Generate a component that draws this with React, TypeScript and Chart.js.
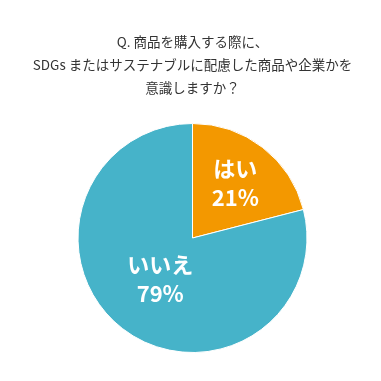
import React, { useEffect, useRef } from "react";
import { Chart, registerables } from "chart.js";

Chart.register(...registerables);

const titleLines = [
  "Q. 商品を購入する際に、",
  "SDGs またはサステナブルに配慮した商品や企業かを",
  "意識しますか？",
];
const categories = ["はい", "いいえ"];
const values = [21, 79];
const colors = ["#F39800", "#46B3C9"];
// radial placement (fraction of radius) of the label block in each slice
const labelRadius = [0.61, 0.46];

const sliceLabels = {
  id: "sliceLabels",
  afterDatasetsDraw(chart: any) {
    const { ctx } = chart;
    const meta = chart.getDatasetMeta(0);
    const data = chart.data.datasets[0].data as number[];
    const labels = chart.data.labels as string[];
    ctx.save();
    ctx.fillStyle = "#ffffff";
    ctx.textAlign = "center";
    ctx.textBaseline = "middle";
    ctx.font = "bold 22px 'Noto Sans CJK JP', 'Noto Sans', sans-serif";
    meta.data.forEach((arc: any, i: number) => {
      const { x, y, startAngle, endAngle, outerRadius } = arc.getProps(
        ["x", "y", "startAngle", "endAngle", "outerRadius"],
        true
      );
      const mid = (startAngle + endAngle) / 2;
      const r = outerRadius * labelRadius[i];
      const cx = x + Math.cos(mid) * r;
      const cy = y + Math.sin(mid) * r;
      ctx.fillText(labels[i], cx, cy - 14.5);
      ctx.fillText(data[i] + "%", cx, cy + 14.5);
    });
    ctx.restore();
  },
};

export default function App() {
  const ref = useRef<HTMLCanvasElement>(null);
  useEffect(() => {
    if (!ref.current) return;
    const chart = new Chart(ref.current, {
      type: "pie",
      data: {
        labels: categories,
        datasets: [
          {
            data: values,
            backgroundColor: colors,
            borderColor: "#ffffff",
            borderWidth: 1,
          },
        ],
      },
      options: {
        responsive: false,
        animation: false,
        layout: { padding: { left: 4, right: 0, top: 0, bottom: 28 } },
        plugins: {
          legend: { display: false },
          tooltip: { enabled: false },
          title: {
            display: true,
            text: titleLines,
            color: "#333333",
            font: {
              family: "'Noto Sans CJK JP', 'Noto Sans', sans-serif",
              size: 13.5,
              weight: "normal",
              lineHeight: 23 / 13.5,
            },
            padding: { top: 30.5, bottom: 23.5 },
          },
        },
      },
      plugins: [sliceLabels],
    });
    return () => chart.destroy();
  }, []);
  return (
    <div style={{ position: "absolute", left: 0, top: 0, width: 381, height: 381, background: "#fff" }}>
      <canvas ref={ref} width={381} height={381} style={{ width: 381, height: 381 }} />
    </div>
  );
}
